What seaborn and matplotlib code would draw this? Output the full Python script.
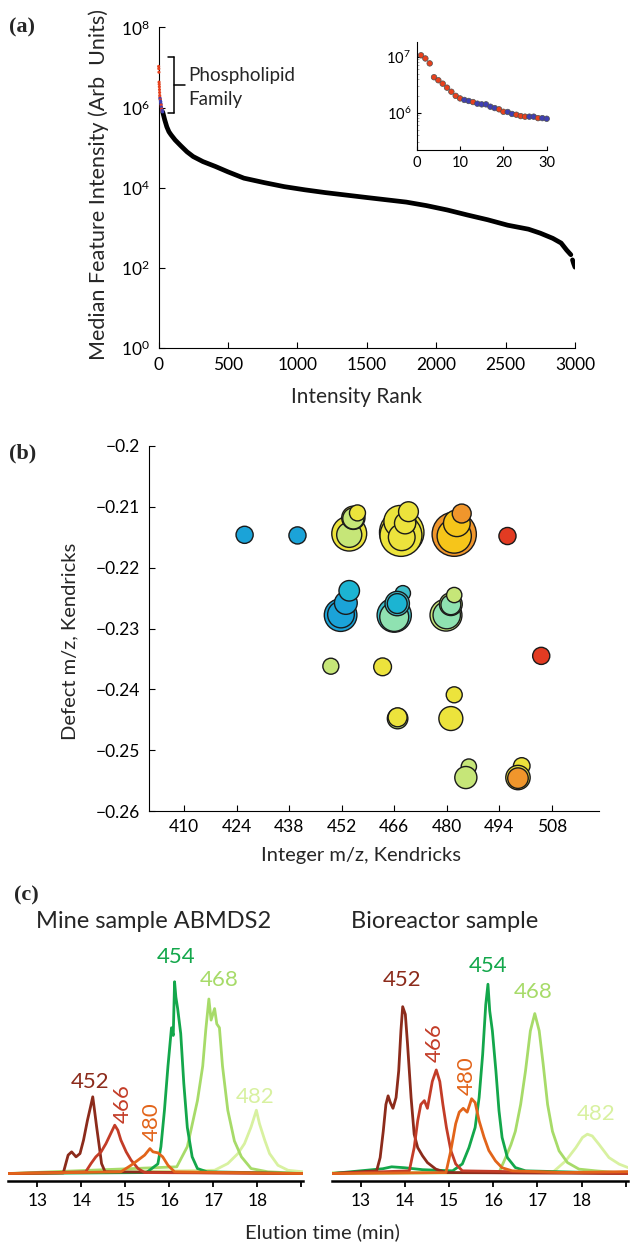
import matplotlib
matplotlib.use("Agg")
import matplotlib.pyplot as plt
import matplotlib.ticker as mticker
from matplotlib.lines import Line2D
import pandas as pd
import seaborn as sns

# ---------------- panel (a) data ----------------
inset_rank = list(range(1, 31))
inset_intensity = [1.06e7, 9.3e6, 7.6e6, 4.3e6, 3.8e6, 3.3e6, 2.8e6, 2.37e6, 2.0e6, 1.8e6,
                   1.69e6, 1.62e6, 1.55e6, 1.45e6, 1.41e6, 1.41e6, 1.28e6, 1.21e6, 1.15e6, 1.04e6,
                   1.03e6, 0.95e6, 0.92e6, 0.87e6, 0.85e6, 0.85e6, 0.85e6, 0.80e6, 0.80e6, 0.78e6]
inset_class = (['red'] * 10 +
               ['blue', 'blue', 'red', 'blue', 'blue', 'blue', 'blue', 'blue', 'red', 'red',
                'blue', 'blue', 'red', 'red', 'red', 'blue', 'blue', 'red', 'blue', 'blue'])

curve_rank = [30, 45, 60, 75, 90, 120, 160, 205, 250, 320, 410, 500, 615, 760, 905, 1055,
              1200, 1495, 1785, 1930, 2080, 2225, 2370, 2515, 2665, 2750, 2840, 2900, 2940, 2970]
curve_intensity = [7.8e5, 4.9e5, 3.3e5, 2.5e5, 2.1e5, 1.55e5, 1.12e5, 7.9e4, 6.0e4, 4.5e4,
                   3.4e4, 2.5e4, 1.74e4, 1.35e4, 1.07e4, 8.9e3, 7.6e3, 5.75e3, 4.4e3, 3.6e3,
                   2.8e3, 2.1e3, 1.6e3, 1.17e3, 930, 740, 550, 420, 280, 215]
tail_rank = [2982, 2990, 3000]
tail_intensity = [160, 130, 105]

rank_ticks = [0, 500, 1000, 1500, 2000, 2500, 3000]
inset_ticks = [0, 10, 20, 30]

# ---------------- panel (b) data ----------------
b_mz = [426.1, 440.2, 496.2,
        454.0, 454.0, 455.1, 455.1, 456.2,
        468.0, 467.8, 467.5, 468.0, 468.9, 469.8,
        482.0, 482.0, 482.7, 484.0,
        451.7, 451.8, 453.1, 454.0,
        466.0, 466.0, 468.3, 466.8, 466.8,
        479.8, 480.0, 481.1, 481.1, 482.0,
        449.1, 462.9, 505.2, 482.0, 481.1, 466.9, 466.9,
        485.9, 485.1, 500.0, 499.0, 499.0]
b_defect = [-0.2146, -0.2147, -0.2148,
            -0.2144, -0.2146, -0.2118, -0.2119, -0.2110,
            -0.2142, -0.2147, -0.2124, -0.2150, -0.2127, -0.2108,
            -0.2145, -0.2148, -0.2127, -0.2111,
            -0.2278, -0.2277, -0.2258, -0.2238,
            -0.2278, -0.2281, -0.2242, -0.2259, -0.2259,
            -0.2278, -0.2278, -0.2260, -0.2261, -0.2245,
            -0.2362, -0.2363, -0.2345, -0.2409, -0.2448, -0.2448, -0.2446,
            -0.2527, -0.2545, -0.2526, -0.2545, -0.2546]
b_abundance = [117, 117, 117,
               485, 251, 216, 179, 102,
               788, 700, 406, 284, 179, 157,
               780, 467, 284, 143,
               424, 284, 207, 168,
               467, 334, 93, 237, 157,
               406, 299, 207, 157, 93,
               102, 126, 117, 102, 229, 168, 143,
               93, 195, 110, 237, 168]
b_group = ['blue', 'blue', 'red',
           'yellow', 'lime', 'yellow', 'lime', 'yellow',
           'yellow', 'yellow', 'yellow', 'yellow', 'yellow', 'yellow',
           'orange', 'gold', 'gold', 'orange',
           'blue', 'blue', 'blue', 'blue2',
           'teal', 'mint', 'teal', 'teal', 'blue2',
           'lime', 'mint', 'lime', 'mint', 'lime',
           'lime', 'yellow', 'red', 'yellow', 'yellow', 'lime', 'yellow',
           'lime', 'lime', 'yellow', 'yellow', 'orange']
mz_ticks = [410, 424, 438, 452, 466, 480, 494, 508]
defect_ticks = [-0.26, -0.25, -0.24, -0.23, -0.22, -0.21, -0.20]

# ---------------- panel (c) data ----------------
m452_t = [12.34, 13.59, 13.70, 13.78, 13.88, 13.97, 14.05, 14.14, 14.21, 14.26, 14.30, 14.35, 14.41, 14.46, 14.54, 19.04]
m452_h = [0, 0.3, 9.6, 11.3, 8.7, 10.4, 17.4, 27.8, 34.8, 40, 33, 24, 13.9, 5.2, 0.9, 0]
m466_t = [12.34, 14.10, 14.22, 14.33, 14.45, 14.56, 14.67, 14.76, 14.83, 14.90, 15.02, 15.13, 15.29, 15.44, 19.04]
m466_h = [0, 0.9, 5.2, 8.7, 11.3, 15.6, 20.9, 25.2, 22.6, 17.4, 11.3, 7.0, 2.6, 0.5, 0]
m480_t = [12.34, 14.90, 15.13, 15.29, 15.44, 15.56, 15.63, 15.74, 15.85, 15.97, 16.12, 19.04]
m480_h = [0, 0.9, 4.3, 7.0, 9.6, 13.0, 11.3, 10.8, 8.7, 4.3, 0.9, 0]
m454_t = [12.34, 15.48, 15.74, 15.81, 15.89, 15.97, 16.05, 16.09, 16.12, 16.15, 16.19, 16.26, 16.33, 16.41, 16.52, 16.64, 16.86, 19.04]
m454_h = [0, 0.5, 5, 14, 33, 56, 76, 72, 100, 92, 86, 73, 47, 24, 8.7, 2.6, 0.9, 0]
m468_t = [12.34, 16.17, 16.41, 16.64, 16.76, 16.83, 16.90, 16.95, 17.03, 17.08, 17.14, 17.21, 17.33, 17.48, 17.64, 17.86, 18.24, 19.04]
m468_h = [0, 3.5, 14, 38, 56, 75, 91, 80, 86, 78, 76, 56, 33, 17, 8.7, 2.6, 0.9, 0]
m482_t = [12.34, 17.03, 17.33, 17.56, 17.71, 17.86, 17.98, 18.05, 18.17, 18.28, 18.47, 18.70, 19.04]
m482_h = [0, 1.7, 5.2, 10.4, 15.6, 24.3, 33, 26, 17.4, 10.4, 4.3, 1.7, 0.9]

b452_t = [12.35, 13.36, 13.44, 13.51, 13.57, 13.62, 13.67, 13.73, 13.80, 13.86, 13.91, 13.95, 14.01, 14.06, 14.14, 14.21, 14.29, 14.40, 14.51, 14.70, 14.93, 19.05]
b452_h = [0, 1.4, 8.3, 22, 36, 40.5, 37, 34, 39.6, 53.5, 74.4, 87, 83, 67.4, 39.6, 20.5, 13.5, 9.2, 5.7, 2.3, 0.5, 0]
b466_t = [12.35, 14.10, 14.21, 14.29, 14.36, 14.44, 14.51, 14.62, 14.71, 14.79, 14.86, 14.94, 15.04, 15.15, 15.30, 19.05]
b466_h = [0, 1.4, 13.5, 27.5, 36, 38, 34, 48, 54, 48, 36, 24, 12, 5, 1.4, 0]
b480_t = [12.35, 14.93, 15.04, 15.15, 15.23, 15.32, 15.41, 15.51, 15.59, 15.68, 15.79, 15.90, 16.05, 16.20, 16.43, 17.60, 19.05]
b480_h = [0, 0.5, 12, 26, 32, 34, 32, 39, 37, 27.5, 19, 12, 6.6, 3, 1.4, 0.5, 1.0]
b454_t = [12.35, 13.50, 13.70, 14.00, 14.40, 15.08, 15.30, 15.45, 15.59, 15.68, 15.76, 15.83, 15.88, 15.92, 15.98, 16.06, 16.13, 16.20, 16.32, 16.50, 16.73, 19.05]
b454_h = [0, 2.5, 3.5, 3, 2, 1.4, 5, 13.5, 24, 39.6, 62, 88, 98.7, 84.8, 74.4, 53.5, 32.7, 18.8, 8.3, 3.1, 1.4, 0]
b468_t = [12.35, 16.13, 16.28, 16.40, 16.50, 16.62, 16.73, 16.84, 16.94, 17.04, 17.13, 17.23, 17.34, 17.49, 17.68, 17.94, 18.32, 19.05]
b468_h = [0, 0.5, 8.3, 15, 22, 36, 53.5, 74.4, 83.4, 74.4, 57, 36, 22, 11.8, 5.7, 2.3, 1.4, 0]
b482_t = [12.35, 17.34, 17.64, 17.87, 18.02, 18.13, 18.24, 18.39, 18.62, 18.85, 19.05]
b482_h = [0.5, 0.5, 6.6, 13.5, 18.8, 20.5, 19.6, 15.3, 8.3, 4.9, 3.1]

mz_labels = ['482', '468', '454', '452', '466', '480']   # drawing order
mine_label_pos = {'452': (14.20, 47.9, 0), '466': (14.94, 36.6, 90), '480': (15.60, 27.0, 90),
                  '454': (16.15, 113.0, 0), '468': (17.13, 101.0, 0), '482': (17.95, 40.0, 0)}
bio_label_pos = {'452': (13.93, 101.0, 0), '466': (14.68, 68.3, 90), '480': (15.40, 51.0, 90),
                 '454': (15.88, 108.0, 0), '468': (16.90, 94.4, 0), '482': (18.32, 31.0, 0)}
time_ticks = [13, 14, 15, 16, 17, 18, 19]
time_ticklabels = ['13', '14', '15', '16', '17', '18', '']

# ---------------- styling ----------------
sns.set_theme(style="ticks")
plt.rcParams['font.family'] = ['Lato', 'DejaVu Sans']
plt.rcParams['mathtext.default'] = 'regular'
plt.rcParams['axes.unicode_minus'] = True

W, H = 630, 1245
fig = plt.figure(figsize=(W / 100, H / 100), dpi=100)


def px_axes(left, top, right, bottom):
    return fig.add_axes([left / W, 1 - bottom / H, (right - left) / W, (bottom - top) / H])


serif = ['Liberation Serif', 'DejaVu Serif']
fig.text(9 / W, 1 - 27 / H, '(a)', family=serif, weight='bold', fontsize=16, va='center')
fig.text(9 / W, 1 - 453 / H, '(b)', family=serif, weight='bold', fontsize=16, va='center')
fig.text(14 / W, 1 - 895 / H, '(c)', family=serif, weight='bold', fontsize=16, va='center')

# ---------------- panel (a) ----------------
axa = px_axes(158.5, 27.3, 575, 348.3)
axa.set_yscale('log')
sns.lineplot(x=curve_rank, y=curve_intensity, color='black', linewidth=3.4, sort=False,
             estimator=None, ax=axa, solid_capstyle='round')
sns.lineplot(x=tail_rank, y=tail_intensity, color='black', linewidth=3.4, sort=False,
             estimator=None, ax=axa, solid_capstyle='round')
pt_pal = {'red': '#e8411d', 'blue': '#3f3fb3'}
sns.scatterplot(x=inset_rank, y=inset_intensity, hue=inset_class, palette=pt_pal, s=5,
                edgecolor='none', legend=False, ax=axa, clip_on=False, zorder=5)
axa.set_xlim(0, 3000)
axa.set_ylim(1, 1e8)
axa.set_xticks(rank_ticks)
axa.yaxis.set_major_locator(mticker.FixedLocator([1, 1e2, 1e4, 1e6, 1e8]))
axa.yaxis.set_minor_locator(mticker.NullLocator())
axa.yaxis.set_major_formatter(mticker.LogFormatterSciNotation())
sns.despine(ax=axa)
for sp in axa.spines.values():
    sp.set_linewidth(0.8)
    sp.set_color('black')
axa.tick_params(direction='in', length=4, width=0.8, labelsize=12.5, colors='black', pad=6)
axa.set_xlabel('Intensity Rank', fontsize=15)
axa.set_ylabel('Median Feature Intensity (Arb  Units)', fontsize=15.5)
axa.xaxis.set_label_coords(0.476, -0.12)
axa.yaxis.set_label_coords(-0.118, 0.51)

# bracket + text
bx0, bx1, bx2 = 168.3, 174.3, 185.0
by0, by1, bym = 57.3, 112.7, 85.0
for xs, ys in [((bx0, bx1), (by0, by0)), ((bx1, bx1), (by0, by1)), ((bx0, bx1), (by1, by1)),
               ((bx1, bx2), (bym, bym))]:
    fig.add_artist(Line2D([x / W for x in xs], [1 - y / H for y in ys], color='black', lw=1.1))
fig.text(188 / W, 1 - 75 / H, 'Phospholipid', fontsize=13.5, va='center')
fig.text(188 / W, 1 - 99.5 / H, 'Family', fontsize=13.5, va='center')

# inset
axi = px_axes(416.7, 41.7, 546.7, 150)
axi.set_yscale('log')
sns.scatterplot(x=inset_rank, y=inset_intensity, hue=inset_class, palette=pt_pal, s=16,
                edgecolor='#505050', linewidth=0.5, legend=False, ax=axi, clip_on=False, zorder=5)
axi.set_xlim(0, 30)
axi.set_ylim(10 ** 5.334, 10 ** 7.268)
axi.set_xticks(inset_ticks)
axi.yaxis.set_major_locator(mticker.FixedLocator([1e6, 1e7]))
axi.yaxis.set_minor_locator(mticker.LogLocator(subs=range(2, 10)))
axi.yaxis.set_minor_formatter(mticker.NullFormatter())
axi.yaxis.set_major_formatter(mticker.LogFormatterSciNotation())
sns.despine(ax=axi)
for sp in axi.spines.values():
    sp.set_linewidth(0.8)
    sp.set_color('black')
axi.tick_params(direction='in', length=3, width=0.8, labelsize=10.5, colors='black', pad=4)
axi.tick_params(which='minor', direction='in', length=1.5, width=0.5, colors='#888888')
axi.set_facecolor('none')

# ---------------- panel (b) ----------------
axb = px_axes(148.6, 446, 598.6, 811)
b_pal = {'blue': '#1ba3d8', 'blue2': '#1cb4d2', 'teal': '#3dbdc9', 'mint': '#8fe2b1',
         'lime': '#c6e678', 'yellow': '#ece33c', 'gold': '#f6c51a', 'orange': '#f0962c',
         'red': '#e23b22'}
sns.scatterplot(x=b_mz, y=b_defect, hue=b_group, palette=b_pal, size=b_abundance,
                sizes=(0, 1300), size_norm=(0, 1000), edgecolor='#1a1a1a', linewidth=1.0,
                legend=False, ax=axb)
axb.set_xlim(400.5, 520.5)
axb.set_ylim(-0.26, -0.20)
axb.set_xticks(mz_ticks)
axb.set_yticks(defect_ticks)
axb.yaxis.set_major_formatter(mticker.FuncFormatter(
    lambda v, p: '\u2212' + ('%g' % abs(round(v, 3)))))
sns.despine(ax=axb)
for sp in axb.spines.values():
    sp.set_linewidth(0.8)
    sp.set_color('black')
axb.tick_params(direction='in', length=4, width=0.8, labelsize=12.5, colors='black', pad=6)
axb.set_xlabel('Integer m/z, Kendricks', fontsize=14.5)
axb.set_ylabel('Defect m/z, Kendricks', fontsize=14.5)
axb.xaxis.set_label_coords(0.472, -0.1)
axb.yaxis.set_label_coords(-0.155, 0.464)

# ---------------- panel (c) ----------------
trace_pal = {'452': '#8c2b1b', '466': '#c33c27', '480': '#e2641a',
             '454': '#13a74b', '468': '#a7db69', '482': '#d8f1a0'}
mine = {'452': (m452_t, m452_h), '466': (m466_t, m466_h), '480': (m480_t, m480_h),
        '454': (m454_t, m454_h), '468': (m468_t, m468_h), '482': (m482_t, m482_h)}
bio = {'452': (b452_t, b452_h), '466': (b466_t, b466_h), '480': (b480_t, b480_h),
       '454': (b454_t, b454_h), '468': (b468_t, b468_h), '482': (b482_t, b482_h)}


def long_df(traces):
    rows = []
    for mz, (ts, hs) in traces.items():
        for i, (t, h) in enumerate(zip(ts, hs)):
            rows.append({'mz': mz, 'time': t, 'signal': h, 'order': i})
    return pd.DataFrame(rows)


axc1 = px_axes(8.3, 915, 303, 1181)
axc2 = px_axes(332, 915, 628, 1181)
for ax, traces, labpos, xl, title, tx in [
        (axc1, mine, mine_label_pos, (12.34, 19.04), 'Mine sample ABMDS2', 36),
        (axc2, bio, bio_label_pos, (12.35, 19.05), 'Bioreactor sample', 351)]:
    df = long_df(traces)
    sns.lineplot(data=df, x='time', y='signal', hue='mz', hue_order=mz_labels,
                 palette=trace_pal, units='mz', estimator=None, sort=False,
                 linewidth=2.0, legend=False, ax=ax)
    for mz in mz_labels:
        t, h, rot = labpos[mz]
        ax.text(t, h, mz, color=trace_pal[mz], fontsize=16, rotation=rot,
                ha='center', va='center')
    ax.set_xlim(*xl)
    ax.set_ylim(-3.9, 134.8)
    ax.set_xticks(time_ticks)
    ax.set_xticklabels(time_ticklabels)
    ax.set_yticks([])
    ax.set_xlabel('')
    ax.set_ylabel('')
    for s in ['left', 'right', 'top']:
        ax.spines[s].set_visible(False)
    ax.spines['bottom'].set_linewidth(1.8)
    ax.spines['bottom'].set_color('black')
    ax.tick_params(axis='x', direction='out', length=4.5, width=1.3, labelsize=12.5,
                   colors='black', pad=4)
    ax.set_facecolor('none')
    fig.text(tx / W, 1 - 921 / H, title, fontsize=17, va='center', ha='left')

fig.text(322 / W, 1 - 1232 / H, 'Elution time (min)', fontsize=14.5, ha='center', va='center')

fig.savefig('out.png', dpi=100)
